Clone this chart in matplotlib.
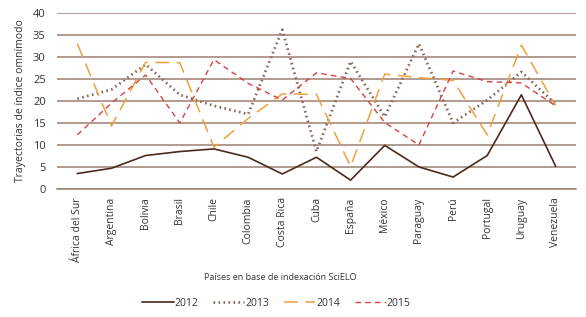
import matplotlib
matplotlib.use('Agg')
import matplotlib.pyplot as plt
import numpy as np

paises = ['África del Sur', 'Argentina', 'Bolivia', 'Brasil', 'Chile', 'Colombia',
          'Costa Rica', 'Cuba', 'España', 'México', 'Paraguay', 'Perú', 'Portugal',
          'Uruguay', 'Venezuela']
v2012 = [3.5, 4.7, 7.6, 8.5, 9.1, 7.2, 3.4, 7.2, 2.0, 9.9, 5.0, 2.7, 7.6, 21.4, 5.2]
v2013 = [20.5, 22.6, 28.3, 21.4, 18.9, 17.0, 36.2, 8.5, 29.0, 16.4, 33.0, 15.0, 20.2, 26.6, 19.3]
v2014 = [33.0, 14.3, 28.8, 28.7, 9.5, 16.0, 21.6, 21.5, 5.1, 26.1, 25.3, 24.7, 12.3, 32.7, 19.0]
v2015 = [12.3, 19.5, 25.9, 15.0, 29.4, 24.0, 20.2, 26.4, 25.1, 15.1, 10.0, 26.8, 24.4, 24.1, 18.9]

plt.rcParams['font.family'] = ['Open Sans', 'DejaVu Sans']
txt = '#333333'
grid = '#9c7f70'

fig = plt.figure(figsize=(5.86, 3.17), dpi=100)
ax = fig.add_axes([0.097, 0.404, 0.886, 0.555])

x = np.arange(len(paises))
ax.plot(x, v2012, color='#4b2a1c', lw=1.2, label='2012')
ax.plot(x, v2013, color='#8c6a5e', lw=2.0, linestyle=(0, (0.6, 1.2)), label='2013')
ax.plot(x, v2014, color='#f0a03c', lw=1.1, linestyle=(0, (9, 5)), label='2014')
ax.plot(x, v2015, color='#d9413f', lw=1.0, linestyle=(0, (4, 3)), label='2015')

ax.set_xlim(-0.6, 14.6)
ax.set_ylim(0, 40)
ax.set_yticks(range(0, 41, 5))
ax.yaxis.grid(True, color=grid, lw=1.1)
ax.set_axisbelow(True)
for s in ['top', 'right', 'left']:
    ax.spines[s].set_visible(False)
ax.spines['bottom'].set_color(grid)
ax.spines['bottom'].set_linewidth(1.1)
ax.tick_params(axis='y', length=0, labelsize=8, colors=txt, pad=8)
ax.tick_params(axis='x', length=0, labelsize=7.5, colors=txt, pad=6)
ax.set_xticks(x)
ax.set_xticklabels(paises, rotation=90)
ax.set_ylabel('Trayectorias de índice omnímodo', fontsize=7.5, color=txt, labelpad=5)
ax.set_xlabel('Países en base de indexación SciELO', fontsize=6.5, color=txt, va='center')
ax.xaxis.set_label_coords(0.43, -0.506)

leg = fig.legend(loc='center', bbox_to_anchor=(0.472, 0.043), ncol=4, frameon=False,
                 fontsize=7.5, handlelength=3.0, handletextpad=0.1, columnspacing=1.4)
for t in leg.get_texts():
    t.set_color(txt)

fig.savefig('out.png', dpi=100)
